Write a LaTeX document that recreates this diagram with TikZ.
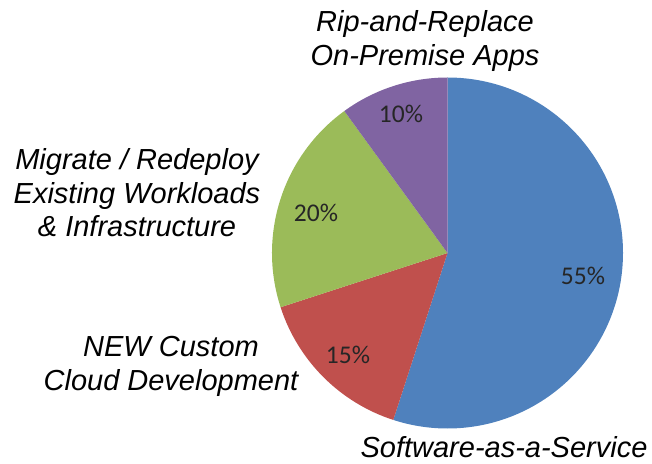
\documentclass[tikz,border=0pt]{standalone}
\usepackage{fontspec}
\setmainfont{Liberation Sans}
\newfontfamily\pctfont{Carlito}
\usepackage{tikz}
\usetikzlibrary{positioning, calc}

\definecolor{saasblue}{HTML}{4F81BD}
\definecolor{customred}{HTML}{C0504D}
\definecolor{migrategreen}{HTML}{9BBB59}
\definecolor{ripviolet}{HTML}{8064A2}

\begin{document}
\begin{tikzpicture}[x=1pt, y=1pt,
    catlabel/.style={font=\fontsize{29}{33.5}\selectfont\itshape, align=center, inner sep=0pt},
    pctlabel/.style={font=\fontsize{25.5}{29}\pctfont, text=black!85, inner sep=0pt}]
            \useasboundingbox (0,0) rectangle (652,463);
            \coordinate (pie) at (447.5,210);
            % slices, clockwise from the top
            \foreach \a/\b/\c in {90/-108/saasblue, -108/-162/customred, -162/-234/migrategreen, -234/-270/ripviolet} {
                \fill[\c] (pie) -- ++(\a:175.5) arc[start angle=\a, end angle=\b, radius=175.5] -- cycle;
            }
            \node[pctlabel] (p55) at (583,187) {55\%};
            \node[pctlabel] (p15) at (348,108) {15\%};
            \node[pctlabel] (p20) at (316,250) {20\%};
            \node[pctlabel] (p10) at (401,349) {10\%};
            \node[catlabel] (rip) at (425,422) {Rip-and-Replace\\On-Premise Apps};
            \node[catlabel] (migrate) at (137,270) {Migrate / Redeploy\\Existing Workloads\\\& Infrastructure};
            \node[catlabel] (custom) at (171,96.5) {NEW Custom\\Cloud Development};
            \node[catlabel, anchor=base] (saas) at (504,6) {Software-as-a-Service};
        \end{tikzpicture}
\end{document}
